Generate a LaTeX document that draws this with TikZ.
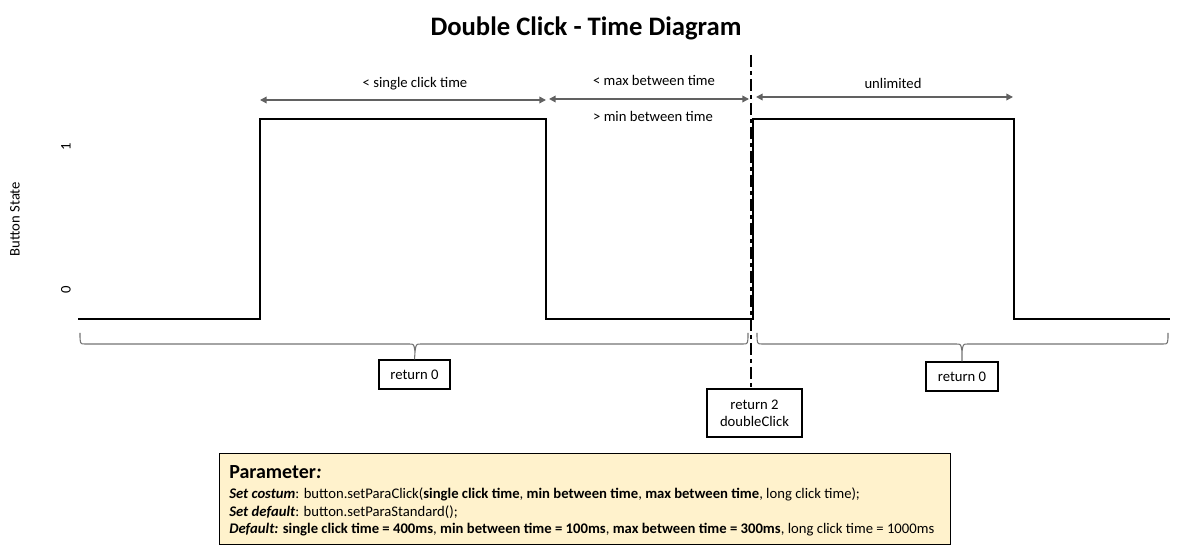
\documentclass[tikz,border=0pt]{standalone}
\usepackage{fontspec}
\setmainfont{Carlito}
\usetikzlibrary{arrows.meta}
\tikzset{
  sig/.style={line width=2.2pt, line join=miter},
  dimarrow/.style={draw=black!62, line width=1.1pt, {Triangle[length=5pt,width=5pt]}-{Triangle[length=5pt,width=5pt]}},
  lbl/.style={font=\fontsize{11}{13}\selectfont, inner sep=0pt},
  brace/.style={draw=black!55, line width=0.8pt},
  retbox/.style={draw=black, line width=0.8pt, font=\fontsize{11}{13}\selectfont, align=center, inner sep=0pt},
  parbox/.style={draw=black, line width=0.8pt, fill={rgb,255:red,255;green,242;blue,204}},
  parline/.style={anchor=west, inner sep=0pt, font=\fontsize{11}{13}\selectfont},
  dashdot/.style={line width=1.6pt, dash pattern=on 9pt off 3pt on 3pt off 3pt}
}
\begin{document}
\begin{tikzpicture}[x=0.75pt,y=-0.75pt]
\useasboundingbox (0,0) rectangle (1177,555);
% title
\node[font=\fontsize{20}{24}\selectfont\bfseries] (title) at (586,28) {Double Click - Time Diagram};
% axis labels
\node[lbl, rotate=90] (yone) at (66,147) {1};
\node[lbl, rotate=90] (yzero) at (66,290) {0};
\node[lbl, rotate=90] (ylab) at (15,219) {Button State};
% signal
\coordinate (s0) at (78,319);
\coordinate (r1) at (260,319);
\coordinate (f1) at (546,319);
\coordinate (r2) at (753,319);
\coordinate (f2) at (1014,319);
\coordinate (s1) at (1170,319);
\draw[sig] (s0) -- (r1) -- (260,119) -- (546,119) -- (f1) -- (r2) -- (753,119) -- (1014,119) -- (f2) -- (s1);
% dash-dot marker
\coordinate (dtop) at (751,55);
% boxes
\node[retbox, minimum width=71*0.75pt, minimum height=29*0.75pt] (ret0a) at (414.5,374.5) {return 0};
\node[retbox, minimum width=72*0.75pt, minimum height=29*0.75pt] (ret0b) at (962,376.5) {return 0};
\node[retbox, minimum width=95*0.75pt, minimum height=48*0.75pt] (ret2) at (754.5,413) {return 2\\doubleClick};
\draw[dashdot] (dtop) -- (dtop |- ret2.north);
% dimension arrows
\coordinate (a1) at (260,100); \coordinate (a2) at (546,100);
\coordinate (b1) at (549,99); \coordinate (b2) at (749,99);
\coordinate (c1) at (756,97); \coordinate (c2) at (1013,97);
\draw[dimarrow] (a1) -- (a2);
\draw[dimarrow] (b1) -- (b2);
\draw[dimarrow] (c1) -- (c2);
\node[lbl] (la) at (415,84) {< single click time};
\node[lbl] (lbmax) at (654,80) {< max between time};
\node[lbl] (lbmin) at (653,116) {> min between time};
\node[lbl] (lc) at (893,83) {unlimited};
% braces
\draw[brace] (80,333) .. controls (80,344) .. (85,344) -- (409,344) .. controls (414,344) .. (415,352) -- (ret0a.north)
  (415,352) .. controls (416,344) .. (421,344) -- (743,344) .. controls (748,344) .. (748,333);
\draw[brace] (757,333) .. controls (757,344) .. (762,344) -- (956,344) .. controls (961,344) .. (962,352) -- (ret0b.north)
  (962,352) .. controls (963,344) .. (968,344) -- (1163,344) .. controls (1168,344) .. (1168,333);
% parameter box
\node[parbox, minimum width=731*0.75pt, minimum height=91*0.75pt, anchor=north west] (par) at (219,453) {};
\node[anchor=west, inner sep=0pt, font=\fontsize{15}{18}\selectfont\bfseries] (ptitle) at (229,472) {Parameter\textit{:}};
\node[parline] (pl1) at (229,494) {\textbf{\textit{Set costum}}: button.setParaClick(\textbf{single click time}, \textbf{min between time}, \textbf{max between time}, long click time);};
\node[parline] (pl2) at (229,512) {\textbf{\textit{Set default}}: button.setParaStandard();};
\node[parline] (pl3) at (229,530) {\textbf{\textit{Default:}} \textbf{single click time = 400ms},\ \textbf{min between time = 100ms},\ \textbf{max between time = 300ms},\ long click time = 1000ms};
\end{tikzpicture}
\end{document}
